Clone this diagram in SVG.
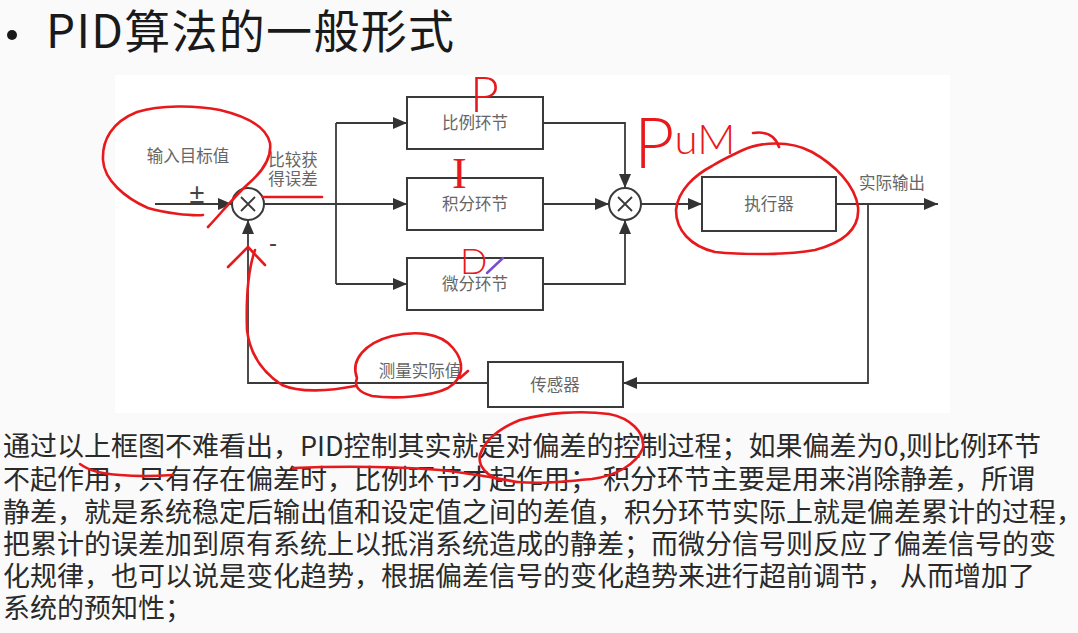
<svg xmlns="http://www.w3.org/2000/svg" width="1078" height="633" viewBox="0 0 1078 633">
<defs>
<style>
.ln{fill:none;stroke:#3a3a3a;stroke-width:1.8}
.box{fill:#fff;stroke:#3a3a3a;stroke-width:2}
.lbl{font-family:"Noto Sans CJK SC","Noto Sans",sans-serif;font-size:16.5px;fill:#666}
.body{font-family:"Noto Sans CJK SC","Noto Sans",sans-serif;font-size:27px;fill:#2a2a2a}
.red{fill:none;stroke:#e8191c;stroke-width:2.6;stroke-linecap:round;stroke-linejoin:round}
.hand{font-family:Lato,"Liberation Sans",sans-serif;font-weight:300;fill:#e8191c}
</style>
<marker id="ah" markerWidth="14" markerHeight="12" refX="14" refY="6" orient="auto" markerUnits="userSpaceOnUse"><path d="M0,0 L14,6 L0,12 z" fill="#333"/></marker>
</defs>
<rect width="1078" height="633" fill="#fafafb"/>
<rect x="115" y="75" width="835" height="338" fill="#fff"/>

<g id="title">
<circle cx="12" cy="35" r="5" fill="#1a1a1a"/>
<text x="46" y="48" font-family="'Noto Sans CJK SC','Noto Sans',sans-serif" font-size="46" fill="#1a1a1a" textLength="408">PID算法的一般形式</text>
</g>

<g id="connectors">
<path class="ln" d="M155,204 H232" marker-end="url(#ah)"/>
<path class="ln" d="M264,204 H407" marker-end="url(#ah)"/>
<path class="ln" d="M336,123 V284"/>
<path class="ln" d="M336,123 H407" marker-end="url(#ah)"/>
<path class="ln" d="M336,284 H407" marker-end="url(#ah)"/>
<path class="ln" d="M543,123 H625 V188" marker-end="url(#ah)"/>
<path class="ln" d="M543,204 H609" marker-end="url(#ah)"/>
<path class="ln" d="M543,284 H625 V220" marker-end="url(#ah)"/>
<path class="ln" d="M641,204 H702" marker-end="url(#ah)"/>
<path class="ln" d="M836,204 H938" marker-end="url(#ah)"/>
<path class="ln" d="M868,204 V383 H623" marker-end="url(#ah)"/>
<path class="ln" d="M488,383 H248 V220" marker-end="url(#ah)"/>
</g>

<g id="sum1">
<circle cx="248" cy="204" r="16" fill="#fff" stroke="#3a3a3a" stroke-width="2"/>
<path class="ln" d="M241,197 L255,211 M255,197 L241,211"/>
</g>
<g id="sum2">
<circle cx="625" cy="204" r="16" fill="#fff" stroke="#3a3a3a" stroke-width="2"/>
<path class="ln" d="M618,197 L632,211 M632,197 L618,211"/>
</g>

<g id="p-block"><rect class="box" x="407" y="97" width="136" height="52"/><text class="lbl" x="475" y="129" text-anchor="middle">比例环节</text></g>
<g id="i-block"><rect class="box" x="407" y="178" width="136" height="52"/><text class="lbl" x="475" y="210" text-anchor="middle">积分环节</text></g>
<g id="d-block"><rect class="box" x="407" y="258" width="136" height="52"/><text class="lbl" x="475" y="290" text-anchor="middle">微分环节</text></g>
<g id="actuator"><rect class="box" x="702" y="177" width="134" height="54"/><text class="lbl" x="769" y="210" text-anchor="middle">执行器</text></g>
<g id="sensor"><rect class="box" x="488" y="362" width="135" height="45"/><text class="lbl" x="555" y="391" text-anchor="middle">传感器</text></g>

<g id="labels">
<text class="lbl" x="188" y="162" text-anchor="middle">输入目标值</text>
<text class="lbl" x="293" y="166" text-anchor="middle">比较获</text>
<text class="lbl" x="293" y="185" text-anchor="middle">得误差</text>
<text x="197" y="203" text-anchor="middle" font-family="'Liberation Sans',sans-serif" font-size="27" fill="#444">±</text>
<text x="273" y="251" text-anchor="middle" font-family="'Liberation Sans',sans-serif" font-size="24" fill="#444">-</text>
<text class="lbl" x="420" y="377" text-anchor="middle">测量实际值</text>
<text class="lbl" x="892" y="189" text-anchor="middle">实际输出</text>
</g>

<g id="body-text">
<text class="body" x="3" y="456">通过以上框图不难看出，PID控制其实就是对偏差的控制过程；如果偏差为0,则比例环节</text>
<text class="body" x="3" y="489">不起作用，只有存在偏差时，比例环节才起作用； 积分环节主要是用来消除静差，所谓</text>
<text class="body" x="3" y="522">静差，就是系统稳定后输出值和设定值之间的差值，积分环节实际上就是偏差累计的过程，</text>
<text class="body" x="3" y="554">把累计的误差加到原有系统上以抵消系统造成的静差；而微分信号则反应了偏差信号的变</text>
<text class="body" x="3" y="586">化规律，也可以说是变化趋势，根据偏差信号的变化趋势来进行超前调节， 从而增加了</text>
<text class="body" x="3" y="618">系统的预知性；</text>
</g>

<g id="annotations">
<path class="red" d="M203,215 C190,216 165,213 148,208 C125,198 104,180 103,160 C102,140 112,122 137,112 C160,105 195,105 220,110 C245,116 266,126 270,143 C272,158 262,172 248,184 C235,196 222,212 208,227"/>
<path class="red" d="M263,197 L322,197"/>
<path class="red" d="M228,267 L248,247 L265,265"/>
<path class="red" d="M255,250 C248,270 246,300 247,330 C250,355 262,372 282,385 C300,393 330,391 355,386"/>
<path class="red" d="M357,378 C350,360 365,343 392,336 C415,331 440,332 453,348 C465,362 464,378 448,388 C430,397 395,399 372,396 C358,392 354,386 357,378"/>
<path class="red" d="M468,371 L460,378"/>
<path class="red" d="M743,150 C760,142 790,140 812,152 C835,165 855,185 858,207 C860,228 845,242 815,250 C790,255 745,255 715,252 C690,246 676,230 676,210 C678,190 695,175 712,166 C725,158 735,154 743,150"/>
<path class="red" d="M753,133 C765,131 775,135 779,147"/>
<path d="M487,273 L503,258" fill="none" stroke="#7a4bd0" stroke-width="2.4" stroke-linecap="round"/>
<text class="hand" x="470" y="112" font-size="50">P</text>
<text x="452" y="188" font-family="'Liberation Serif',serif" font-size="44" fill="#e8191c">I</text>
<text class="hand" x="460" y="274" font-size="36">D</text>
<text class="hand" x="634" y="168"><tspan font-size="70">P</tspan><tspan font-size="42" dy="-14">uM</tspan></text>
<path class="red" d="M80,464 C88,470 100,474 120,475 C140,477 160,476 173,475"/>
<path class="red" d="M293,468 C340,466 400,467 440,470 C470,473 495,478 517,482"/>
<path class="red" d="M517,482 C540,484 560,482 592,479 C615,476 636,465 643,448 C645,432 630,418 609,414 C580,410 545,413 520,420 C500,428 485,440 480,455 C478,465 485,475 500,480"/>
</g>
</svg>
